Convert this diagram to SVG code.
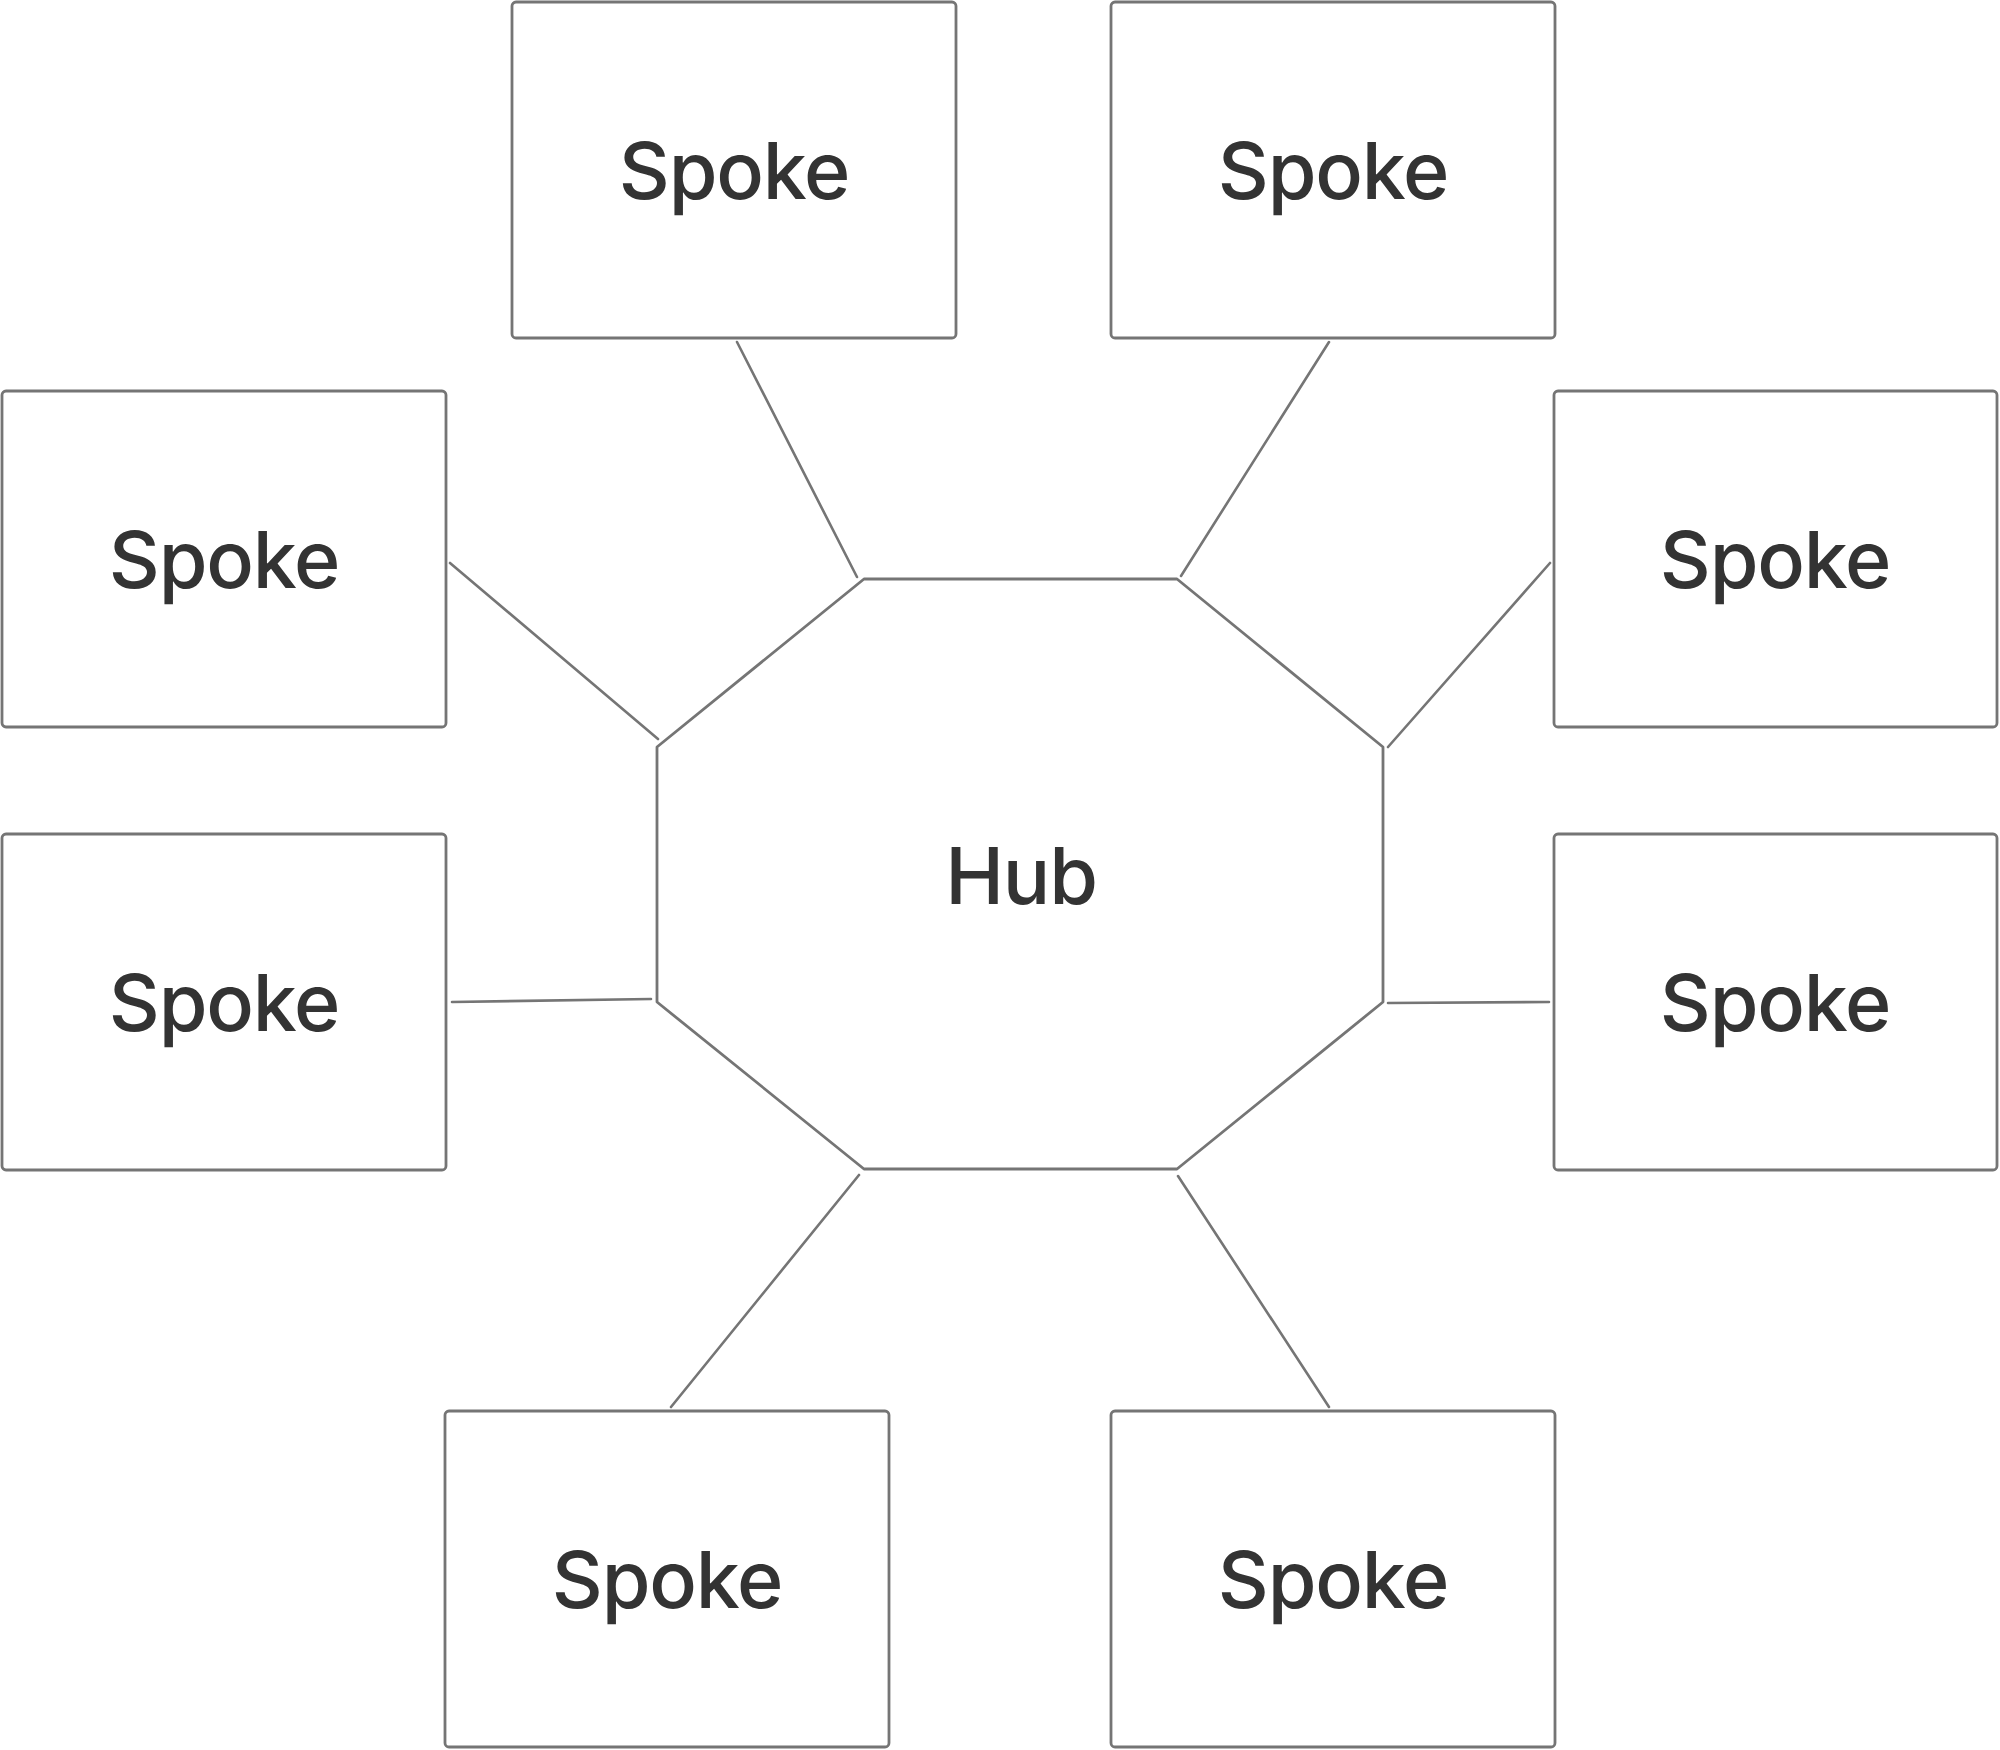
<svg xmlns="http://www.w3.org/2000/svg" width="2000" height="1750" viewBox="0 0 2000 1750">
<style>
.box{fill:#ffffff;stroke:#757575;stroke-width:2.8}
.hub{fill:#ffffff;stroke:#757575;stroke-width:2.8;stroke-linejoin:round}
.edge{stroke:#757575;stroke-width:2.6;fill:none;stroke-linecap:round}
.lbl{font-family:Inter,"Liberation Sans",sans-serif;font-size:79px;font-weight:500;letter-spacing:-1.2px;fill:#333333;text-anchor:middle}
</style>
<rect width="2000" height="1750" fill="#ffffff"/>
<g id="connectors">
<line class="edge" x1="737" y1="342" x2="857" y2="577"/>
<line class="edge" x1="1329" y1="342" x2="1181" y2="576"/>
<line class="edge" x1="450" y1="563" x2="658" y2="739"/>
<line class="edge" x1="1550" y1="563" x2="1388" y2="747"/>
<line class="edge" x1="452" y1="1002" x2="651" y2="999"/>
<line class="edge" x1="1388" y1="1003" x2="1549" y2="1002"/>
<line class="edge" x1="671" y1="1407" x2="859" y2="1175"/>
<line class="edge" x1="1178" y1="1176" x2="1329" y2="1407"/>
</g>
<g id="hub">
<polygon class="hub" points="864,579 1177,579 1383,747 1383,1002 1177,1169 864,1169 657,1002 657,747"/>
<text class="lbl" x="1021" y="904">Hub</text>
</g>
<g id="spoke1">
<rect class="box" x="512" y="2" width="444" height="336" rx="4"/>
<text class="lbl" x="734" y="199">Spoke</text>
</g>
<g id="spoke2">
<rect class="box" x="1111" y="2" width="444" height="336" rx="4"/>
<text class="lbl" x="1333" y="199">Spoke</text>
</g>
<g id="spoke3">
<rect class="box" x="2" y="391" width="444" height="336" rx="4"/>
<text class="lbl" x="224" y="588">Spoke</text>
</g>
<g id="spoke4">
<rect class="box" x="1554" y="391" width="443" height="336" rx="4"/>
<text class="lbl" x="1775" y="588">Spoke</text>
</g>
<g id="spoke5">
<rect class="box" x="2" y="834" width="444" height="336" rx="4"/>
<text class="lbl" x="224" y="1031">Spoke</text>
</g>
<g id="spoke6">
<rect class="box" x="1554" y="834" width="443" height="336" rx="4"/>
<text class="lbl" x="1775" y="1031">Spoke</text>
</g>
<g id="spoke7">
<rect class="box" x="445" y="1411" width="444" height="336" rx="4"/>
<text class="lbl" x="667" y="1608">Spoke</text>
</g>
<g id="spoke8">
<rect class="box" x="1111" y="1411" width="444" height="336" rx="4"/>
<text class="lbl" x="1333" y="1608">Spoke</text>
</g>
</svg>
